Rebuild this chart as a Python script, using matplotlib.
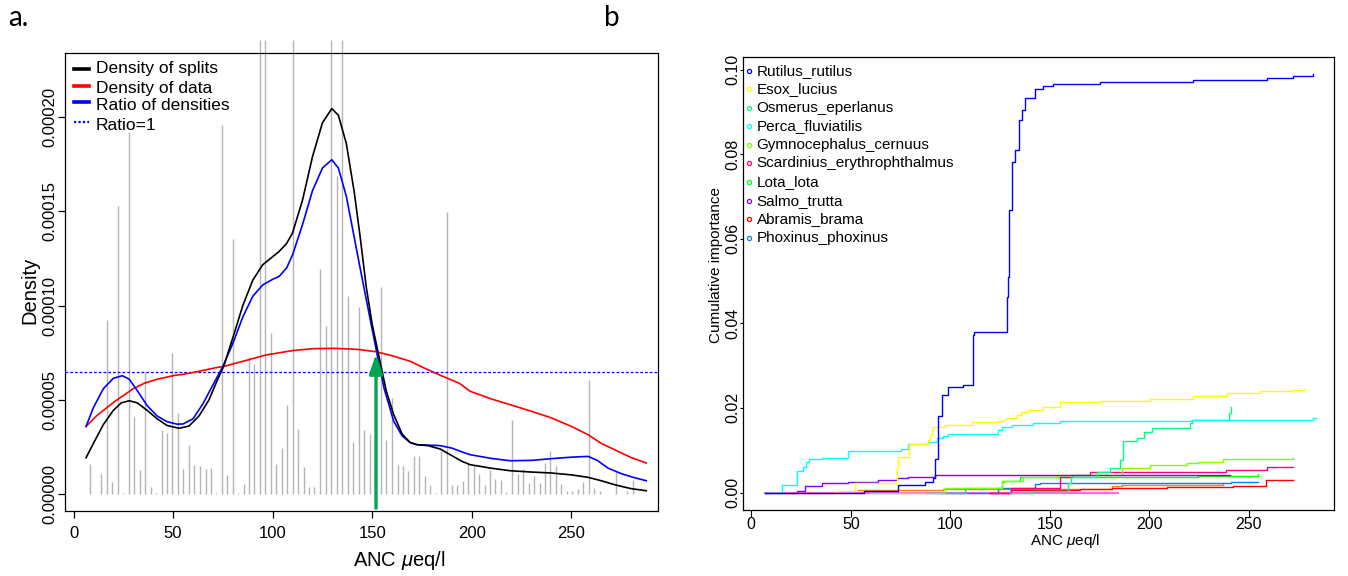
import matplotlib
matplotlib.use('Agg')
import matplotlib.pyplot as plt
from matplotlib.lines import Line2D

W, H, DPI = 1348, 576, 100
plt.rcParams['font.family'] = ['Liberation Sans', 'DejaVu Sans']
plt.rcParams['mathtext.fontset'] = 'custom'
plt.rcParams['mathtext.rm'] = 'Liberation Sans'
plt.rcParams['mathtext.it'] = 'Liberation Sans:italic'

# ---------------- panel a data ----------------
# split-density bins (x in ANC ueq/l, height in density units *1e-5); tall bars run past the box top
bin_x = [8.4, 13.8, 16.6, 19.3, 22.1, 25.0, 27.8, 30.3, 33.2, 35.8, 38.7, 41.4, 44.2, 46.9,
         49.5, 52.4, 55.2, 57.9, 60.7, 63.4, 66.3, 68.8, 71.7, 74.4, 77.1, 79.9, 82.6, 85.5,
         88.1, 90.8, 93.6, 96.3, 99.2, 101.8, 104.5, 107.4, 110.2, 112.9, 115.5, 118.4, 121.0,
         123.9, 126.7, 129.4, 132.2, 134.9, 137.6, 140.5, 143.3, 146.0, 148.8, 151.5, 154.3,
         157.1, 159.8, 162.7, 165.3, 168.0, 170.8, 173.5, 176.3, 179.0, 181.9, 184.5, 187.4,
         190.2, 192.7, 195.6, 198.2, 200.9, 203.8, 206.4, 209.3, 211.9, 214.6, 217.4, 220.3,
         223.0, 225.8, 228.5, 231.2, 234.0, 236.7, 239.5, 242.4, 245.0, 247.7, 250.5, 253.2,
         256.0, 258.7, 261.6, 264.4, 272.6, 278.1, 280.9]
bin_h = [1.6, 1.08, 9.24, 0.64, 15.27, 0.07, 19.2, 4.1, 1.27, 6.47, 0.39, 0.07, 3.43, 3.25,
         7.49, 4.31, 1.34, 2.63, 1.54, 1.5, 1.34, 1.39, 0.07, 19.57, 1.04, 13.55, 0.07, 0.56,
         7.28, 6.93, 24.1, 24.1, 8.55, 1.62, 2.47, 4.75, 24.1, 3.48, 1.45, 0.4, 0.4,
         11.96, 8.92, 24.1, 16.89, 24.1, 10.53, 2.77, 9.95, 3.43, 3.2, 1.5, 11.0,
         2.86, 5.1, 1.54, 1.48, 1.22, 2.01, 2.01, 0.95, 0.51, 0.05, 2.31, 14.95,
         0.51, 0.51, 0.72, 1.71, 1.57, 1.09, 0.51, 1.3, 0.83, 0.77, 0.1, 3.96,
         1.09, 1.36, 0.6, 0.95, 0.6, 1.66, 2.28, 1.48, 0.55, 0.15, 0.15, 0.3,
         0.65, 6.04, 0.35, 0.2, 1.18, 0.2, 0.76]

splits_x = [6.3, 10, 15, 20, 24, 28, 32, 37, 42, 47, 53, 58, 63, 68, 72, 75.4, 80, 85, 90, 95,
            100, 103.3, 107, 110, 115, 120, 125, 129.7, 133, 137, 141, 144, 147, 150, 153.3,
            157, 160.8, 165, 169, 172.5, 178, 184.2, 190, 195, 199.2, 210, 219.3, 230, 240,
            250, 258.4, 265, 272, 280, 287.6]
splits_y = [1.94, 2.7, 3.7, 4.45, 4.85, 4.96, 4.85, 4.45, 4.0, 3.65, 3.5, 3.62, 4.15, 5.0,
            6.0, 6.78, 8.3, 10.0, 11.35, 12.17, 12.6, 12.88, 13.3, 13.86, 15.6, 17.9, 19.7,
            20.45, 20.1, 18.6, 16.0, 13.6, 11.0, 9.0, 7.35, 5.5, 4.22, 3.2, 2.75, 2.63, 2.58,
            2.4, 2.05, 1.75, 1.57, 1.38, 1.25, 1.18, 1.13, 1.03, 0.9, 0.72, 0.5, 0.3, 0.19]

data_x = [6.3, 12, 20.8, 30, 35.8, 42, 50.9, 55, 62, 70.9, 75.4, 85, 96.8, 110, 120, 130.3,
          140, 144.1, 151.9, 160, 169.2, 175, 184.2, 193.7, 199.2, 210, 219.3, 230, 240, 250,
          258.4, 265, 273.4, 280, 287.6]
data_y = [3.6, 4.2, 4.93, 5.6, 5.9, 6.1, 6.31, 6.36, 6.5, 6.7, 6.78, 7.05, 7.39, 7.62, 7.72,
          7.74, 7.7, 7.67, 7.56, 7.35, 7.05, 6.75, 6.31, 5.89, 5.46, 5.05, 4.75, 4.4, 4.05,
          3.6, 3.16, 2.7, 2.28, 1.95, 1.66]

ratio_x = [6.3, 10, 15, 20, 24.5, 28, 32, 37, 42, 47, 52, 55, 60, 65, 70, 75, 80, 85, 90, 95,
           100, 103.3, 107, 110, 115, 120, 125, 129.7, 133, 137, 141, 144.1, 148, 152.5, 156,
           160.8, 165, 169, 172.5, 180, 184.2, 190, 195, 199.2, 210, 219.3, 230, 240, 250,
           258.4, 263, 268.4, 275, 281, 287.6]
ratio_y = [3.6, 4.6, 5.6, 6.15, 6.29, 6.1, 5.5, 4.7, 4.15, 3.85, 3.72, 3.73, 4.0, 4.8, 5.8,
           6.78, 8.0, 9.4, 10.5, 11.1, 11.4, 11.56, 12.0, 12.7, 14.3, 16.1, 17.3, 17.74, 17.3,
           15.8, 13.6, 11.9, 9.8, 7.4, 5.6, 3.87, 3.1, 2.75, 2.63, 2.6, 2.58, 2.45, 2.25, 2.1,
           1.9, 1.78, 1.8, 1.89, 1.97, 2.01, 1.8, 1.39, 1.1, 0.9, 0.72]

ratio_one = 6.47
arrow_x, arrow_y0, arrow_y1 = 151.9, -0.74, 7.44
legend_a = ['Density of splits', 'Density of data', 'Ratio of densities', 'Ratio=1']

# ---------------- panel b data ----------------
species = ['Rutilus_rutilus', 'Esox_lucius', 'Osmerus_eperlanus', 'Perca_fluviatilis',
           'Gymnocephalus_cernuus', 'Scardinius_erythrophthalmus', 'Lota_lota',
           'Salmo_trutta', 'Abramis_brama', 'Phoxinus_phoxinus']
sp_colors = ['#0000FF', '#FFFF00', '#00FF80', '#00FFFF', '#80FF00', '#FF0080', '#00FF00',
             '#8000FF', '#FF0000', '#0080FF']

rut_x = [7, 56.8, 73.9, 87.3, 91.5, 92.5, 93.8, 96.0, 98.6, 106.3, 111.2, 112.0, 128.3,
         128.6, 129.0, 129.6, 130.8, 132.5, 134.7, 135.8, 137.5, 142.5, 146.7, 151.7, 175.2,
         222, 258.9, 272.3, 282]
rut_y = [0, 0.0004, 0.0018, 0.0025, 0.0034, 0.0079, 0.0182, 0.0231, 0.0249, 0.0254, 0.0373,
         0.0379, 0.0392, 0.0463, 0.0511, 0.0669, 0.0783, 0.0811, 0.0882, 0.0905, 0.0933,
         0.0954, 0.0961, 0.0967, 0.0970, 0.0975, 0.0980, 0.0986, 0.0990]
eso_x = [7, 43, 52.1, 73.1, 73.9, 79.4, 89, 89.8, 90.6, 91.4, 97.3, 110.7, 124.1, 127.5, 128.3,
         133.3, 135.4, 139.2, 146.7, 155.1, 175.2, 200.3, 222, 238.8, 255.5, 272.3, 277.6]
eso_y = [0, 0.0004, 0.0022, 0.0057, 0.0083, 0.0115, 0.0124, 0.0136, 0.0148, 0.0156, 0.016,
         0.0166, 0.017, 0.0174, 0.0176, 0.0183, 0.0191, 0.0195, 0.0203, 0.0213, 0.0217,
         0.0221, 0.0228, 0.0235, 0.024, 0.0243, 0.0245]
osm_x = [130, 141.7, 159.3, 160.5, 173.5, 180, 185.2, 186.9, 193.6, 197.3, 201.1, 220.4, 221.2,
         240.1, 240.8]
osm_y = [0, 0.0004, 0.0022, 0.0036, 0.0049, 0.0057, 0.0077, 0.0123, 0.0128, 0.0142, 0.0153,
         0.0164, 0.0172, 0.0187, 0.0202]
per_x = [7, 15.3, 23.2, 26.2, 27.5, 29.2, 35.4, 48.8, 66.4, 75.2, 78.9, 89, 93.2, 96.5, 99,
         124.1, 125.8, 130.8, 141.7, 155.1, 221.2, 282.3, 283.5]
per_y = [0, 0.0018, 0.0051, 0.006, 0.0073, 0.0079, 0.0081, 0.0097, 0.0099, 0.0102, 0.0115,
         0.012, 0.0128, 0.0134, 0.0138, 0.0148, 0.0154, 0.016, 0.0165, 0.017, 0.0172, 0.0176,
         0.0176]
gym_x = [60, 97.3, 125.8, 136.7, 153.6, 186.1, 200.3, 218.7, 224.6, 236.8, 272.3]
gym_y = [0, 0.001, 0.0027, 0.0037, 0.0041, 0.0058, 0.0065, 0.0069, 0.0072, 0.0079, 0.0081]
sca_x = [120, 130.4, 155.3, 161, 170.2, 238.4, 258.9, 272.3]
sca_y = [0, 0.001, 0.0036, 0.0042, 0.0049, 0.0053, 0.006, 0.0061]
lot_x = [95.7, 107.4, 125.8, 127, 135, 224.6, 254.7]
lot_y = [0, 0.001, 0.0026, 0.0028, 0.0036, 0.0039, 0.0043]
sal_x = [7, 23.2, 26.9, 35.4, 48.8, 63.8, 73.1, 78.9, 92.3, 240.5]
sal_y = [0, 0.0004, 0.0015, 0.0022, 0.0026, 0.003, 0.0034, 0.0037, 0.0041, 0.0041]
abr_x = [120, 130.4, 165, 181.2, 208.7, 219.3, 242, 258.6, 272.3]
abr_y = [0, 0.0006, 0.0008, 0.0011, 0.0012, 0.0014, 0.0015, 0.003, 0.003]
pho_x = [88, 124, 142.5, 145, 240.5, 241, 254.7]
pho_y = [0, 0.001, 0.0019, 0.0022, 0.0023, 0.0026, 0.0026]
ora_x = [53.8, 96.3, 181.2, 186.1, 237.1]
ora_y = [0.0007, 0.0008, 0.0015, 0.0018, 0.0022]
mag_x = [7, 184]
mag_y = [0, 0]

# ---------------- figure ----------------
fig = plt.figure(figsize=(W / DPI, H / DPI), dpi=DPI)


def fx(px):
    return px / W


def fy(py):
    return 1 - py / H


# ---- panel a ----
axA = fig.add_axes([fx(65), fy(511), (658 - 65) / W, (511 - 53) / H])
s = 1e-5
axA.vlines(bin_x, 0, [h * s for h in bin_h], colors='#b4b4b4', lw=1.0, clip_on=False, zorder=1)
axA.axhline(ratio_one * s, color='#0000FF', lw=0.9, ls=(0, (2.2, 1.6)), zorder=2)
axA.plot(data_x, [v * s for v in data_y], color='#FF0000', lw=1.2, zorder=3)
axA.plot(ratio_x, [v * s for v in ratio_y], color='#0000FF', lw=1.2, zorder=4)
axA.plot(splits_x, [v * s for v in splits_y], color='black', lw=1.2, zorder=5)
axA.annotate('', xy=(arrow_x, arrow_y1 * s), xytext=(arrow_x, arrow_y0 * s),
             arrowprops=dict(arrowstyle='-|>,head_length=0.58,head_width=0.2', color='#00A651',
                             lw=2.4, mutation_scale=20, shrinkA=0, shrinkB=0), zorder=6)
axA.set_xlim(-4.27, 293.5)
axA.set_ylim(-0.885e-5, 23.4e-5)
axA.set_xticks([0, 50, 100, 150, 200, 250])
axA.set_xticklabels(['0', '50', '100', '150', '200', '250'], fontsize=12)
axA.set_yticks([0, 5e-5, 10e-5, 15e-5, 20e-5])
axA.set_yticklabels(['0.00000', '0.00005', '0.00010', '0.00015', '0.00020'], fontsize=12,
                    rotation=90, va='center')
axA.tick_params(axis='x', length=5, width=0.9, pad=5.5)
axA.tick_params(axis='y', length=5, width=0.9, pad=0.8)
for sp in axA.spines.values():
    sp.set_linewidth(0.9)

# legend a (manual)
leg_line_y = [69, 86, 102, 122]
leg_text_y = [69, 88, 106, 126]
leg_styles = [dict(color='black', lw=2.6), dict(color='#FF0000', lw=2.6),
              dict(color='#0000FF', lw=2.6), dict(color='#0000FF', lw=1.6, ls=(0, (1, 1)))]
for ly, ty, lab, st in zip(leg_line_y, leg_text_y, legend_a, leg_styles):
    fig.add_artist(Line2D([fx(74), fx(89)], [fy(ly), fy(ly)], **st))
    fig.text(fx(96), fy(ty), lab, fontsize=12.5, ha='left', va='center')

fig.text(fx(30), fy(290), 'Density', fontsize=14.5, rotation=90, ha='center', va='center')
fig.text(fx(399), fy(560), r'ANC $\mu$eq/l', fontsize=14.5, ha='center', va='center')
fig.text(fx(8), fy(26), 'a.', fontsize=20, family=['Lato', 'DejaVu Sans'], ha='left',
         va='baseline')

# ---- panel b ----
axB = fig.add_axes([fx(742.7), fy(510), (1334 - 742.7) / W, (510 - 56.7) / H])
series_b = [(mag_x, mag_y, '#FF66FF', 1.6), (ora_x, ora_y, '#FF8000', 1.0),
            (abr_x, abr_y, sp_colors[8], 1.0), (pho_x, pho_y, sp_colors[9], 1.0),
            (lot_x, lot_y, sp_colors[6], 1.0), (sca_x, sca_y, sp_colors[5], 1.0),
            (gym_x, gym_y, sp_colors[4], 1.0), (sal_x, sal_y, sp_colors[7], 1.0),
            (osm_x, osm_y, sp_colors[2], 1.0), (per_x, per_y, sp_colors[3], 1.0),
            (eso_x, eso_y, sp_colors[1], 1.0), (rut_x, rut_y, sp_colors[0], 1.0)]
for xs, ys, c, lw in series_b:
    axB.step(xs, ys, where='post', color=c, lw=lw)
axB.set_xlim(-4.27, 292.7)
axB.set_ylim(-0.00414, 0.1031)
axB.set_xticks([0, 50, 100, 150, 200, 250])
axB.set_xticklabels(['0', '50', '100', '150', '200', '250'], fontsize=11.5)
axB.set_yticks([0, 0.02, 0.04, 0.06, 0.08, 0.10])
axB.set_yticklabels(['0.00', '0.02', '0.04', '0.06', '0.08', '0.10'], fontsize=11.5,
                    rotation=90, va='center')
axB.tick_params(axis='x', length=5, width=0.8, pad=0)
axB.tick_params(axis='y', length=2, width=0.8, pad=0)
for sp in axB.spines.values():
    sp.set_linewidth(0.9)

leg_b_y = [71, 89, 108, 126, 145, 163.3, 182.3, 200.7, 219, 238.3]
for yy, name, c in zip(leg_b_y, species, sp_colors):
    fig.add_artist(Line2D([fx(749.3)], [fy(yy)], marker='o', ms=3, mfc='none', mec=c, mew=0.9,
                          ls='none'))
    fig.text(fx(756.5), fy(yy), name, fontsize=11, ha='left', va='center')

fig.text(fx(716), fy(265), 'Cumulative importance', fontsize=11, rotation=90, ha='center',
         va='center')
fig.text(fx(1065), fy(541), r'ANC $\mu$eq/l', fontsize=11, ha='center', va='center')
fig.text(fx(604), fy(26), 'b', fontsize=20, family=['Lato', 'DejaVu Sans'], ha='left',
         va='baseline')

fig.savefig('out.png', dpi=DPI)
